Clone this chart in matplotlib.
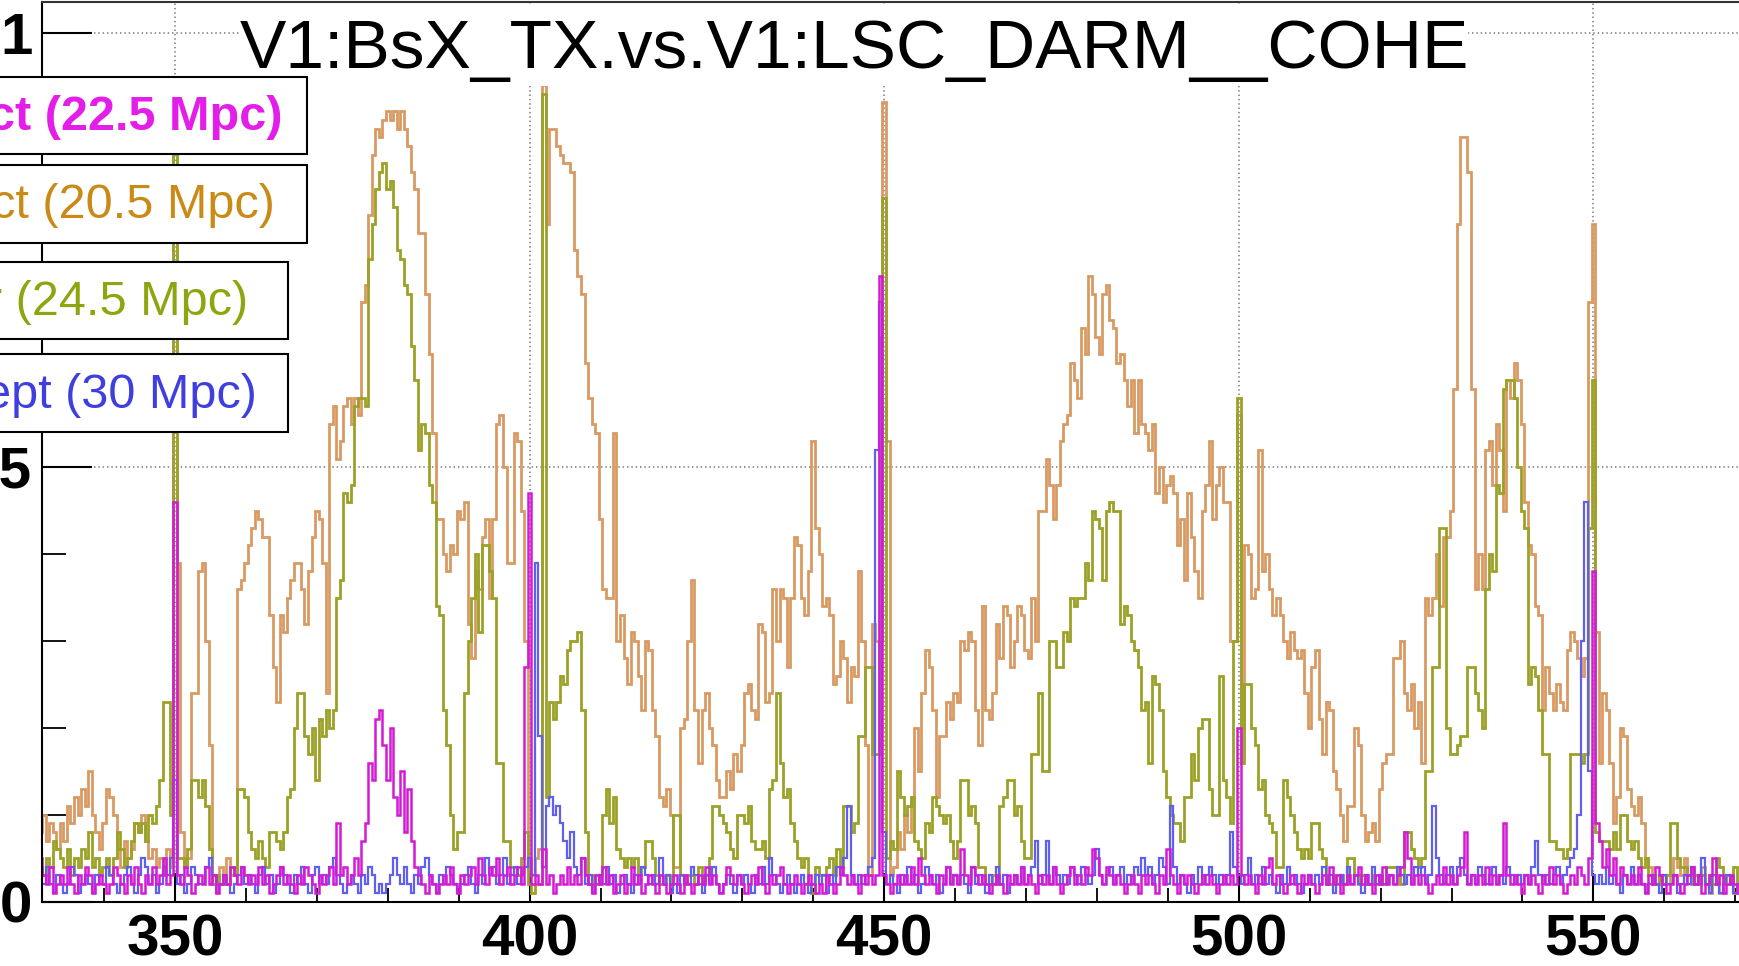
import numpy as np
import matplotlib
matplotlib.use('Agg')
import matplotlib.pyplot as plt
from matplotlib.patches import Rectangle

plt.rcParams['font.family'] = ['Liberation Sans', 'DejaVu Sans']

# coherence histograms, 0.5 Hz bins centred on 331.0 ... 570.5 Hz
bin_edges = np.arange(330.75, 570.76, 0.5)

orange = [
    0.08, 0.10, 0.07, 0.09, 0.08, 0.06, 0.09, 0.07, 0.11, 0.09, 0.12, 0.10, 0.13, 0.11, 0.15, 0.10, 0.08, 0.06, 0.09, 0.13,
    0.12, 0.10, 0.06, 0.04, 0.07, 0.05, 0.06, 0.09, 0.08, 0.10, 0.07, 0.05, 0.06, 0.04, 0.05, 0.03, 0.06, 0.04, 0.93, 0.39,
    0.08, 0.04, 0.05, 0.24, 0.24, 0.38, 0.39, 0.30, 0.18, 0.03, 0.02, 0.04, 0.02, 0.05, 0.03, 0.04, 0.36, 0.37, 0.39, 0.41,
    0.43, 0.45, 0.44, 0.42, 0.42, 0.33, 0.27, 0.23, 0.33, 0.31, 0.35, 0.37, 0.39, 0.39, 0.36, 0.32, 0.38, 0.42, 0.45, 0.44,
    0.39, 0.24, 0.55, 0.57, 0.51, 0.53, 0.57, 0.58, 0.55, 0.58, 0.56, 0.69, 0.71, 0.79, 0.86, 0.89, 0.88, 0.90, 0.91, 0.90,
    0.91, 0.89, 0.91, 0.89, 0.87, 0.84, 0.82, 0.77, 0.77, 0.70, 0.63, 0.54, 0.44, 0.44, 0.40, 0.38, 0.41, 0.40, 0.45, 0.44,
    0.46, 0.32, 0.28, 0.38, 0.36, 0.42, 0.44, 0.35, 0.44, 0.55, 0.56, 0.50, 0.39, 0.39, 0.54, 0.53, 0.45, 0.30, 0.05, 0.03,
    0.05, 0.06, 0.94, 0.78, 0.89, 0.89, 0.87, 0.86, 0.85, 0.85, 0.84, 0.75, 0.72, 0.70, 0.62, 0.58, 0.55, 0.54, 0.44, 0.36,
    0.35, 0.35, 0.54, 0.30, 0.33, 0.28, 0.25, 0.31, 0.30, 0.26, 0.22, 0.30, 0.29, 0.22, 0.19, 0.12, 0.11, 0.13, 0.10, 0.04,
    0.04, 0.20, 0.21, 0.30, 0.37, 0.22, 0.16, 0.22, 0.24, 0.20, 0.18, 0.14, 0.12, 0.12, 0.15, 0.13, 0.17, 0.15, 0.18, 0.24,
    0.25, 0.22, 0.21, 0.32, 0.31, 0.23, 0.24, 0.36, 0.30, 0.36, 0.35, 0.27, 0.35, 0.42, 0.41, 0.35, 0.33, 0.38, 0.53, 0.43,
    0.40, 0.34, 0.35, 0.33, 0.25, 0.26, 0.30, 0.28, 0.23, 0.27, 0.26, 0.38, 0.30, 0.18, 0.03, 0.32, 0.30, 0.65, 0.92, 0.53,
    0.03, 0.04, 0.08, 0.06, 0.10, 0.08, 0.12, 0.20, 0.15, 0.24, 0.29, 0.27, 0.22, 0.12, 0.19, 0.19, 0.23, 0.21, 0.24, 0.23,
    0.30, 0.29, 0.31, 0.30, 0.22, 0.18, 0.34, 0.22, 0.21, 0.24, 0.32, 0.28, 0.34, 0.33, 0.27, 0.30, 0.34, 0.33, 0.29, 0.28,
    0.35, 0.30, 0.45, 0.45, 0.51, 0.48, 0.44, 0.48, 0.53, 0.55, 0.56, 0.62, 0.60, 0.58, 0.66, 0.63, 0.72, 0.70, 0.65, 0.63,
    0.70, 0.71, 0.67, 0.66, 0.62, 0.63, 0.60, 0.57, 0.60, 0.54, 0.60, 0.55, 0.54, 0.52, 0.55, 0.47, 0.50, 0.46, 0.48, 0.49,
    0.47, 0.41, 0.44, 0.37, 0.47, 0.42, 0.38, 0.35, 0.45, 0.48, 0.53, 0.44, 0.48, 0.50, 0.46, 0.46, 0.30, 0.30, 0.56, 0.20,
    0.41, 0.40, 0.35, 0.36, 0.52, 0.38, 0.40, 0.36, 0.33, 0.35, 0.33, 0.30, 0.28, 0.31, 0.29, 0.28, 0.29, 0.24, 0.20, 0.27,
    0.29, 0.21, 0.17, 0.23, 0.22, 0.15, 0.13, 0.10, 0.07, 0.11, 0.11, 0.20, 0.18, 0.10, 0.07, 0.08, 0.09, 0.07, 0.13, 0.16,
    0.17, 0.17, 0.28, 0.28, 0.30, 0.24, 0.22, 0.25, 0.20, 0.23, 0.16, 0.35, 0.33, 0.35, 0.40, 0.34, 0.42, 0.42, 0.45, 0.59,
    0.78, 0.88, 0.88, 0.84, 0.59, 0.36, 0.40, 0.36, 0.52, 0.53, 0.48, 0.55, 0.52, 0.45, 0.60, 0.58, 0.62, 0.60, 0.55, 0.46,
    0.41, 0.40, 0.34, 0.33, 0.22, 0.27, 0.24, 0.22, 0.25, 0.23, 0.22, 0.29, 0.31, 0.30, 0.28, 0.26, 0.28, 0.69, 0.78, 0.31,
    0.16, 0.24, 0.22, 0.16, 0.09, 0.12, 0.20, 0.19, 0.13, 0.11, 0.10, 0.12, 0.09, 0.05, 0.04, 0.03, 0.02, 0.03, 0.03, 0.02,
    0.03, 0.05, 0.04, 0.03, 0.05, 0.03, 0.04, 0.02, 0.03, 0.04, 0.02, 0.01, 0.02, 0.03, 0.01, 0.02, 0.03, 0.02, 0.01, 0.02,
]

green = [
    0.04, 0.03, 0.05, 0.04, 0.07, 0.06, 0.05, 0.04, 0.06, 0.03, 0.05, 0.04, 0.06, 0.05, 0.08, 0.04, 0.05, 0.03, 0.04, 0.05,
    0.03, 0.05, 0.08, 0.06, 0.04, 0.05, 0.07, 0.09, 0.08, 0.09, 0.07, 0.10, 0.09, 0.11, 0.14, 0.23, 0.23, 0.10, 0.93, 0.05,
    0.05, 0.04, 0.06, 0.14, 0.14, 0.12, 0.14, 0.11, 0.06, 0.02, 0.03, 0.02, 0.03, 0.02, 0.04, 0.03, 0.13, 0.13, 0.12, 0.08,
    0.06, 0.05, 0.07, 0.05, 0.04, 0.08, 0.08, 0.07, 0.06, 0.08, 0.12, 0.13, 0.20, 0.24, 0.24, 0.19, 0.17, 0.20, 0.14, 0.21,
    0.19, 0.22, 0.20, 0.22, 0.35, 0.37, 0.47, 0.46, 0.48, 0.57, 0.58, 0.58, 0.57, 0.74, 0.78, 0.82, 0.84, 0.85, 0.82, 0.83,
    0.80, 0.75, 0.74, 0.71, 0.70, 0.64, 0.60, 0.52, 0.55, 0.54, 0.48, 0.46, 0.34, 0.33, 0.22, 0.18, 0.10, 0.06, 0.08, 0.08,
    0.24, 0.30, 0.35, 0.40, 0.31, 0.41, 0.41, 0.38, 0.35, 0.16, 0.16, 0.07, 0.07, 0.04, 0.04, 0.03, 0.05, 0.08, 0.02, 0.01,
    0.02, 0.02, 0.93, 0.12, 0.23, 0.21, 0.23, 0.26, 0.25, 0.29, 0.30, 0.30, 0.31, 0.22, 0.08, 0.02, 0.03, 0.02, 0.03, 0.10,
    0.13, 0.09, 0.12, 0.06, 0.05, 0.04, 0.05, 0.04, 0.05, 0.03, 0.04, 0.07, 0.07, 0.05, 0.03, 0.02, 0.02, 0.03, 0.02, 0.10,
    0.10, 0.03, 0.02, 0.03, 0.03, 0.02, 0.04, 0.02, 0.03, 0.05, 0.11, 0.11, 0.10, 0.09, 0.08, 0.06, 0.05, 0.10, 0.10, 0.09,
    0.11, 0.07, 0.06, 0.06, 0.07, 0.05, 0.13, 0.14, 0.24, 0.16, 0.12, 0.13, 0.09, 0.07, 0.05, 0.04, 0.05, 0.02, 0.01, 0.04,
    0.03, 0.03, 0.04, 0.05, 0.03, 0.06, 0.04, 0.11, 0.11, 0.08, 0.09, 0.19, 0.19, 0.27, 0.27, 0.17, 0.17, 0.30, 0.81, 0.05,
    0.07, 0.06, 0.15, 0.12, 0.10, 0.11, 0.12, 0.07, 0.06, 0.05, 0.09, 0.08, 0.12, 0.11, 0.10, 0.09, 0.10, 0.07, 0.05, 0.07,
    0.14, 0.14, 0.10, 0.11, 0.09, 0.04, 0.04, 0.02, 0.02, 0.03, 0.02, 0.11, 0.12, 0.14, 0.14, 0.10, 0.11, 0.07, 0.05, 0.05,
    0.17, 0.17, 0.24, 0.15, 0.15, 0.30, 0.30, 0.27, 0.27, 0.31, 0.30, 0.35, 0.34, 0.35, 0.35, 0.39, 0.37, 0.45, 0.44, 0.43,
    0.37, 0.45, 0.46, 0.45, 0.45, 0.32, 0.34, 0.33, 0.30, 0.29, 0.27, 0.22, 0.23, 0.16, 0.26, 0.25, 0.22, 0.15, 0.12, 0.10,
    0.09, 0.09, 0.07, 0.12, 0.12, 0.17, 0.14, 0.20, 0.21, 0.21, 0.13, 0.10, 0.10, 0.26, 0.14, 0.12, 0.09, 0.30, 0.58, 0.16,
    0.25, 0.25, 0.20, 0.18, 0.13, 0.14, 0.10, 0.09, 0.08, 0.04, 0.04, 0.14, 0.12, 0.10, 0.08, 0.06, 0.05, 0.06, 0.05, 0.09,
    0.09, 0.06, 0.05, 0.02, 0.02, 0.03, 0.02, 0.03, 0.02, 0.05, 0.05, 0.03, 0.02, 0.03, 0.02, 0.02, 0.03, 0.02, 0.03, 0.02,
    0.04, 0.04, 0.04, 0.03, 0.02, 0.08, 0.08, 0.06, 0.05, 0.04, 0.05, 0.15, 0.15, 0.27, 0.27, 0.43, 0.43, 0.20, 0.17, 0.17,
    0.18, 0.19, 0.19, 0.27, 0.27, 0.24, 0.22, 0.20, 0.36, 0.40, 0.38, 0.48, 0.47, 0.59, 0.60, 0.60, 0.58, 0.50, 0.45, 0.43,
    0.25, 0.27, 0.26, 0.22, 0.17, 0.17, 0.07, 0.07, 0.06, 0.06, 0.05, 0.06, 0.17, 0.17, 0.17, 0.16, 0.17, 0.43, 0.60, 0.08,
    0.07, 0.07, 0.07, 0.06, 0.08, 0.06, 0.10, 0.10, 0.07, 0.06, 0.07, 0.05, 0.04, 0.05, 0.03, 0.02, 0.02, 0.03, 0.02, 0.03,
    0.09, 0.09, 0.05, 0.04, 0.04, 0.03, 0.02, 0.03, 0.02, 0.03, 0.02, 0.03, 0.02, 0.05, 0.04, 0.02, 0.03, 0.02, 0.04, 0.02,
]

blue = [
    0.03, 0.02, 0.04, 0.02, 0.01, 0.03, 0.02, 0.01, 0.02, 0.04, 0.03, 0.01, 0.02, 0.03, 0.02, 0.01, 0.03, 0.02, 0.02, 0.04,
    0.03, 0.02, 0.01, 0.02, 0.03, 0.04, 0.02, 0.01, 0.03, 0.05, 0.04, 0.02, 0.03, 0.01, 0.02, 0.04, 0.03, 0.05, 0.14, 0.02,
    0.03, 0.01, 0.02, 0.04, 0.03, 0.02, 0.02, 0.04, 0.05, 0.03, 0.01, 0.02, 0.03, 0.02, 0.01, 0.02, 0.03, 0.04, 0.02, 0.03,
    0.02, 0.01, 0.03, 0.04, 0.02, 0.03, 0.01, 0.02, 0.04, 0.03, 0.02, 0.01, 0.03, 0.02, 0.04, 0.02, 0.01, 0.03, 0.04, 0.02,
    0.03, 0.02, 0.04, 0.05, 0.03, 0.02, 0.01, 0.02, 0.03, 0.02, 0.01, 0.03, 0.02, 0.04, 0.03, 0.01, 0.02, 0.01, 0.02, 0.03,
    0.05, 0.03, 0.02, 0.04, 0.02, 0.01, 0.03, 0.02, 0.04, 0.05, 0.03, 0.02, 0.01, 0.03, 0.02, 0.04, 0.03, 0.02, 0.01, 0.02,
    0.03, 0.04, 0.02, 0.01, 0.03, 0.02, 0.05, 0.03, 0.04, 0.02, 0.03, 0.05, 0.02, 0.03, 0.04, 0.02, 0.03, 0.04, 0.05, 0.03,
    0.39, 0.19, 0.04, 0.11, 0.12, 0.10, 0.11, 0.09, 0.07, 0.05, 0.08, 0.04, 0.03, 0.05, 0.02, 0.03, 0.01, 0.02, 0.03, 0.02,
    0.04, 0.02, 0.03, 0.01, 0.02, 0.03, 0.02, 0.01, 0.03, 0.02, 0.04, 0.03, 0.02, 0.03, 0.02, 0.05, 0.02, 0.03, 0.01, 0.02,
    0.01, 0.03, 0.02, 0.02, 0.04, 0.03, 0.02, 0.01, 0.03, 0.02, 0.04, 0.02, 0.01, 0.02, 0.03, 0.02, 0.01, 0.03, 0.02, 0.03,
    0.02, 0.01, 0.03, 0.02, 0.04, 0.02, 0.05, 0.03, 0.02, 0.01, 0.02, 0.03, 0.02, 0.01, 0.02, 0.03, 0.02, 0.01, 0.02, 0.03,
    0.02, 0.03, 0.01, 0.03, 0.02, 0.04, 0.03, 0.05, 0.11, 0.03, 0.02, 0.03, 0.02, 0.03, 0.04, 0.05, 0.52, 0.69, 0.08, 0.02,
    0.03, 0.02, 0.01, 0.03, 0.02, 0.04, 0.02, 0.03, 0.01, 0.02, 0.04, 0.03, 0.02, 0.03, 0.01, 0.02, 0.04, 0.02, 0.03, 0.02,
    0.03, 0.02, 0.01, 0.04, 0.02, 0.03, 0.02, 0.01, 0.03, 0.02, 0.04, 0.02, 0.03, 0.01, 0.02, 0.03, 0.02, 0.04, 0.02, 0.03,
    0.04, 0.07, 0.02, 0.03, 0.07, 0.02, 0.04, 0.03, 0.02, 0.03, 0.02, 0.04, 0.03, 0.02, 0.04, 0.03, 0.02, 0.03, 0.06, 0.03,
    0.02, 0.03, 0.04, 0.02, 0.03, 0.04, 0.02, 0.03, 0.02, 0.04, 0.03, 0.05, 0.03, 0.04, 0.02, 0.03, 0.05, 0.04, 0.02, 0.11,
    0.04, 0.02, 0.03, 0.02, 0.01, 0.03, 0.02, 0.04, 0.02, 0.03, 0.04, 0.03, 0.02, 0.03, 0.02, 0.03, 0.08, 0.04, 0.03, 0.02,
    0.03, 0.05, 0.02, 0.03, 0.02, 0.04, 0.02, 0.03, 0.02, 0.01, 0.03, 0.02, 0.04, 0.02, 0.03, 0.02, 0.01, 0.02, 0.03, 0.02,
    0.03, 0.02, 0.04, 0.02, 0.03, 0.01, 0.02, 0.03, 0.02, 0.04, 0.02, 0.03, 0.02, 0.01, 0.03, 0.02, 0.04, 0.02, 0.03, 0.02,
    0.02, 0.03, 0.02, 0.04, 0.03, 0.02, 0.03, 0.02, 0.04, 0.03, 0.04, 0.02, 0.03, 0.11, 0.05, 0.03, 0.02, 0.03, 0.04, 0.02,
    0.04, 0.05, 0.03, 0.02, 0.03, 0.02, 0.04, 0.03, 0.02, 0.03, 0.04, 0.02, 0.03, 0.02, 0.04, 0.03, 0.02, 0.03, 0.02, 0.03,
    0.02, 0.04, 0.07, 0.03, 0.02, 0.03, 0.02, 0.03, 0.04, 0.02, 0.03, 0.04, 0.05, 0.06, 0.10, 0.30, 0.46, 0.15, 0.03, 0.02,
    0.03, 0.02, 0.04, 0.02, 0.03, 0.02, 0.01, 0.03, 0.02, 0.04, 0.02, 0.03, 0.02, 0.01, 0.02, 0.03, 0.02, 0.01, 0.03, 0.02,
    0.02, 0.03, 0.01, 0.02, 0.03, 0.02, 0.04, 0.02, 0.03, 0.05, 0.02, 0.01, 0.03, 0.02, 0.01, 0.02, 0.03, 0.02, 0.01, 0.02,
]

magenta = [
    0.05, 0.03, 0.02, 0.04, 0.01, 0.02, 0.03, 0.02, 0.04, 0.02, 0.01, 0.03, 0.02, 0.04, 0.03, 0.01, 0.02, 0.03, 0.02, 0.01,
    0.02, 0.04, 0.03, 0.02, 0.01, 0.03, 0.02, 0.04, 0.02, 0.01, 0.03, 0.02, 0.04, 0.02, 0.03, 0.05, 0.02, 0.03, 0.46, 0.03,
    0.02, 0.04, 0.03, 0.01, 0.02, 0.03, 0.02, 0.04, 0.02, 0.03, 0.01, 0.02, 0.03, 0.02, 0.04, 0.03, 0.02, 0.04, 0.03, 0.02,
    0.03, 0.02, 0.04, 0.02, 0.03, 0.01, 0.02, 0.03, 0.04, 0.02, 0.03, 0.02, 0.01, 0.03, 0.02, 0.04, 0.03, 0.02, 0.01, 0.03,
    0.02, 0.03, 0.04, 0.02, 0.09, 0.03, 0.04, 0.02, 0.03, 0.05, 0.03, 0.07, 0.09, 0.16, 0.14, 0.21, 0.22, 0.18, 0.14, 0.20,
    0.12, 0.10, 0.15, 0.08, 0.13, 0.07, 0.04, 0.03, 0.02, 0.01, 0.03, 0.02, 0.01, 0.02, 0.03, 0.02, 0.04, 0.02, 0.01, 0.03,
    0.02, 0.03, 0.04, 0.02, 0.05, 0.03, 0.02, 0.04, 0.03, 0.05, 0.02, 0.03, 0.04, 0.02, 0.03, 0.04, 0.02, 0.27, 0.47, 0.02,
    0.03, 0.02, 0.06, 0.02, 0.03, 0.01, 0.02, 0.03, 0.02, 0.04, 0.02, 0.03, 0.02, 0.05, 0.03, 0.02, 0.01, 0.03, 0.02, 0.04,
    0.02, 0.03, 0.01, 0.02, 0.03, 0.01, 0.02, 0.04, 0.02, 0.03, 0.01, 0.02, 0.03, 0.02, 0.01, 0.03, 0.02, 0.01, 0.02, 0.03,
    0.02, 0.01, 0.03, 0.02, 0.01, 0.02, 0.03, 0.02, 0.04, 0.02, 0.03, 0.02, 0.01, 0.02, 0.04, 0.03, 0.02, 0.03, 0.02, 0.01,
    0.02, 0.03, 0.02, 0.04, 0.02, 0.01, 0.03, 0.02, 0.03, 0.04, 0.02, 0.01, 0.02, 0.03, 0.02, 0.01, 0.02, 0.03, 0.02, 0.01,
    0.02, 0.01, 0.03, 0.02, 0.01, 0.02, 0.04, 0.03, 0.02, 0.03, 0.02, 0.01, 0.03, 0.02, 0.03, 0.02, 0.03, 0.72, 0.03, 0.02,
    0.01, 0.02, 0.03, 0.02, 0.03, 0.02, 0.04, 0.02, 0.05, 0.03, 0.02, 0.03, 0.02, 0.01, 0.03, 0.02, 0.04, 0.02, 0.03, 0.02,
    0.06, 0.03, 0.02, 0.04, 0.03, 0.02, 0.03, 0.02, 0.01, 0.02, 0.03, 0.02, 0.01, 0.03, 0.02, 0.03, 0.02, 0.04, 0.02, 0.03,
    0.02, 0.01, 0.03, 0.02, 0.03, 0.02, 0.04, 0.02, 0.01, 0.02, 0.03, 0.04, 0.02, 0.03, 0.02, 0.04, 0.03, 0.06, 0.05, 0.03,
    0.02, 0.04, 0.03, 0.02, 0.03, 0.02, 0.01, 0.02, 0.03, 0.02, 0.01, 0.03, 0.02, 0.03, 0.02, 0.01, 0.03, 0.02, 0.06, 0.03,
    0.02, 0.01, 0.03, 0.02, 0.03, 0.02, 0.01, 0.02, 0.03, 0.02, 0.03, 0.02, 0.01, 0.02, 0.03, 0.02, 0.03, 0.02, 0.20, 0.03,
    0.02, 0.03, 0.02, 0.01, 0.03, 0.02, 0.04, 0.05, 0.02, 0.03, 0.02, 0.01, 0.02, 0.03, 0.02, 0.01, 0.03, 0.02, 0.03, 0.02,
    0.01, 0.02, 0.03, 0.02, 0.04, 0.02, 0.03, 0.01, 0.02, 0.03, 0.02, 0.03, 0.04, 0.02, 0.03, 0.02, 0.01, 0.03, 0.02, 0.04,
    0.02, 0.03, 0.02, 0.03, 0.04, 0.08, 0.05, 0.02, 0.03, 0.02, 0.03, 0.02, 0.01, 0.02, 0.03, 0.02, 0.04, 0.02, 0.03, 0.02,
    0.03, 0.04, 0.08, 0.02, 0.03, 0.02, 0.03, 0.02, 0.04, 0.02, 0.03, 0.02, 0.03, 0.09, 0.03, 0.02, 0.03, 0.02, 0.01, 0.03,
    0.02, 0.03, 0.02, 0.01, 0.03, 0.02, 0.04, 0.02, 0.03, 0.02, 0.01, 0.02, 0.03, 0.02, 0.04, 0.03, 0.02, 0.05, 0.38, 0.09,
    0.07, 0.04, 0.06, 0.03, 0.05, 0.02, 0.04, 0.03, 0.02, 0.03, 0.02, 0.04, 0.02, 0.01, 0.03, 0.02, 0.04, 0.03, 0.02, 0.01,
    0.02, 0.03, 0.02, 0.01, 0.02, 0.03, 0.04, 0.02, 0.03, 0.01, 0.02, 0.03, 0.05, 0.02, 0.03, 0.01, 0.02, 0.03, 0.02, 0.01,
]

x_ticks = [350, 400, 450, 500, 550]
x_tick_labels = ['350', '400', '450', '500', '550']
y_ticks = [0, 0.5, 1]
y_tick_labels = ['0', '0.5', '1']

legend_labels = ['ct (22.5 Mpc)', 'ct (20.5 Mpc)', 'r (24.5 Mpc)', 'ept (30 Mpc)']
legend_colors = ['#e31ee8', '#c98a16', '#8ea50f', '#3f3fe0']

title = 'V1:BsX_TX.vs.V1:LSC_DARM__COHE'

W, H = 1739, 966
fig = plt.figure(figsize=(W / 100, H / 100), dpi=100)


def fx(px):
    return px / W


def fy(py):
    return 1 - py / H


ax = fig.add_axes([fx(42), fy(901.5), fx(1746) - fx(42), fy(2) - fy(901.5)])
ax.set_xlim(331.24, 331.24 + (1746 - 42) / 7.0915)
ax.set_ylim(0, 1.0357)

ax.stairs(orange, bin_edges, color='#d99a62', lw=2.0, zorder=2)
ax.stairs(green, bin_edges, color='#9ca127', lw=2.0, zorder=2.1)
ax.stairs(blue, bin_edges, color='#5f5ff2', lw=1.6, zorder=2.2)
ax.stairs(magenta, bin_edges, color='#d41ad4', lw=1.8, zorder=2.3)

ax.set_xticks(x_ticks, x_tick_labels, fontsize=42, fontweight='bold')
ax.set_yticks(y_ticks, y_tick_labels, fontsize=42, fontweight='bold')
ax.set_xticks(np.arange(340, 571, 10), minor=True)
ax.set_yticks(np.arange(0, 1.01, 0.1), minor=True)
ax.tick_params(axis='x', which='major', direction='in', length=21, width=1.5, pad=9)
ax.tick_params(axis='x', which='minor', direction='in', length=10, width=1.3)
ax.tick_params(axis='y', which='major', direction='in', length=36, width=1.5, pad=7)
ax.tick_params(axis='y', which='minor', direction='in', length=17, width=1.3)

ax.grid(True, which='major', color='#8c8c8c', linestyle=(0, (0.8, 1.6)), lw=1.3)
ax.set_axisbelow(True)
for side in ['left', 'bottom', 'top']:
    ax.spines[side].set_linewidth(1.5)
ax.spines['top'].set_color('#333333')

# title pave with white background
fig.add_artist(Rectangle((fx(240), fy(86)), fx(1468) - fx(240), fy(4) - fy(86),
                         transform=fig.transFigure, fc='white', ec='none', zorder=3))
fig.text(fx(854), fy(68), title, ha='center', va='baseline', fontsize=50, zorder=4)

# legend entries, each in its own box
box_x1 = [307, 307, 288, 288]
box_y = [(77, 154), (165, 243), (262, 339), (354, 432)]
text_x = [283, 275, 248, 257]
weights = ['bold', 'normal', 'normal', 'normal']
for lab, col, bx, (y0, y1), tx, wt in zip(legend_labels, legend_colors, box_x1, box_y, text_x, weights):
    fig.add_artist(Rectangle((fx(-5), fy(y1)), fx(bx) - fx(-5), fy(y0) - fy(y1),
                             transform=fig.transFigure, fc='white', ec='black', lw=1.5, zorder=5))
    fig.text(fx(tx), fy((y0 + y1) / 2 + 2), lab, ha='right', va='center', fontsize=35,
             color=col, fontweight=wt, zorder=6)

fig.savefig('out.png', dpi=100)
